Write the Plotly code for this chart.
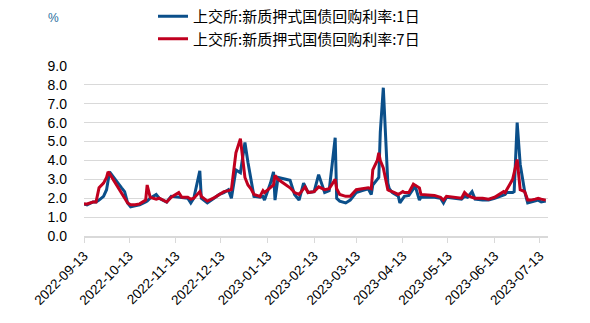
import plotly.graph_objects as go

dates = [
    "2022-09-13", "2022-09-15", "2022-09-19", "2022-09-21", "2022-09-23", "2022-09-26",
    "2022-09-28", "2022-09-29", "2022-09-30", "2022-10-08", "2022-10-10", "2022-10-12",
    "2022-10-14", "2022-10-17", "2022-10-20", "2022-10-24", "2022-10-25", "2022-10-27",
    "2022-10-31", "2022-11-02", "2022-11-07", "2022-11-10", "2022-11-15", "2022-11-17",
    "2022-11-21", "2022-11-23", "2022-11-25", "2022-11-29", "2022-11-30", "2022-12-04",
    "2022-12-08", "2022-12-12", "2022-12-15", "2022-12-18", "2022-12-20", "2022-12-23",
    "2022-12-26", "2022-12-29", "2022-12-31", "2023-01-02", "2023-01-04", "2023-01-08",
    "2023-01-10", "2023-01-11", "2023-01-15", "2023-01-17", "2023-01-18", "2023-01-20",
    "2023-01-28", "2023-01-31", "2023-02-03", "2023-02-06", "2023-02-07", "2023-02-09",
    "2023-02-13", "2023-02-16", "2023-02-20", "2023-02-23", "2023-02-27", "2023-02-28",
    "2023-03-02", "2023-03-06", "2023-03-09", "2023-03-13", "2023-03-17", "2023-03-21",
    "2023-03-23", "2023-03-24", "2023-03-27", "2023-03-28", "2023-03-29", "2023-03-31",
    "2023-04-03", "2023-04-04", "2023-04-06", "2023-04-10", "2023-04-11", "2023-04-13",
    "2023-04-14", "2023-04-17", "2023-04-20", "2023-04-21", "2023-04-24", "2023-04-25",
    "2023-05-04", "2023-05-08", "2023-05-10", "2023-05-12", "2023-05-16", "2023-05-19",
    "2023-05-22", "2023-05-24", "2023-05-26", "2023-05-29", "2023-05-31", "2023-06-05",
    "2023-06-09", "2023-06-13", "2023-06-16", "2023-06-19", "2023-06-20", "2023-06-21",
    "2023-06-25", "2023-06-26", "2023-06-28", "2023-06-30", "2023-07-03", "2023-07-05",
    "2023-07-07", "2023-07-10", "2023-07-12", "2023-07-14", "2023-07-17",
]

rate_1d = [
    1.70, 1.65, 1.80, 1.80, 1.90, 2.10,
    2.45, 3.00, 3.40, 2.55, 2.35, 1.75,
    1.55, 1.60, 1.65, 1.80, 1.85, 2.00,
    2.20, 2.00, 1.80, 2.10, 2.05, 2.05,
    2.00, 1.75, 2.00, 3.45, 2.00, 1.75,
    2.00, 2.20, 2.30, 2.45, 2.00, 3.50,
    3.35, 4.95, 3.90, 3.00, 2.10, 2.05,
    2.10, 1.90, 2.80, 3.40, 1.90, 3.10,
    2.95, 2.20, 1.90, 2.80, 2.60, 2.30,
    2.35, 3.25, 2.30, 2.40, 5.20, 2.00,
    1.85, 1.75, 1.90, 2.30, 2.40, 2.50,
    2.20, 2.70, 3.00, 3.10, 5.50, 7.85,
    2.80, 2.50, 2.30, 2.10, 1.75, 2.00,
    2.10, 2.15, 2.50, 2.70, 1.90, 2.05,
    2.05, 2.00, 1.75, 2.05, 2.00, 1.95,
    1.95, 2.10, 2.05, 2.35, 1.95, 1.90,
    1.90, 2.00, 2.10, 2.20, 2.20, 2.30,
    2.30, 2.35, 6.00, 3.80, 2.35, 1.75,
    1.80, 1.85, 1.90, 1.80, 1.85,
]

rate_7d = [
    1.70, 1.70, 1.80, 1.80, 2.55, 2.80,
    3.10, 3.40, 3.30, 2.30, 2.00, 1.75,
    1.65, 1.65, 1.70, 1.90, 2.70, 2.05,
    1.95, 2.00, 1.80, 2.05, 2.30, 2.05,
    2.05, 1.95, 2.00, 2.35, 2.10, 1.85,
    2.00, 2.20, 2.35, 2.40, 2.45, 4.40,
    5.15, 3.10, 2.70, 2.50, 2.20, 2.10,
    2.40, 2.30, 2.60, 2.70, 3.20, 3.00,
    2.55, 2.30, 2.20, 2.50, 2.60, 2.30,
    2.35, 2.60, 2.45, 2.50, 3.00, 2.50,
    2.20, 2.10, 2.10, 2.45, 2.50, 2.55,
    2.50, 3.50, 4.00, 4.40, 4.00, 3.60,
    2.45, 2.40, 2.35, 2.20, 2.25, 2.35,
    2.30, 2.30, 2.75, 2.70, 2.55, 2.20,
    2.15, 2.05, 1.90, 2.10, 2.05, 2.00,
    2.00, 2.30, 2.15, 2.05, 2.00, 2.00,
    1.95, 2.05, 2.20, 2.35, 2.30, 2.45,
    3.00, 3.35, 4.05, 2.45, 2.35, 1.90,
    1.90, 1.95, 2.00, 1.95, 1.90,
]

tick_dates = [
    "2022-09-13", "2022-10-13", "2022-11-13", "2022-12-13", "2023-01-13", "2023-02-13",
    "2023-03-13", "2023-04-13", "2023-05-13", "2023-06-13", "2023-07-13",
]

name_1d = "上交所:新质押式国债回购利率:1日"
name_7d = "上交所:新质押式国债回购利率:7日"

fig = go.Figure()
fig.add_trace(go.Scatter(x=dates, y=rate_1d, mode="lines", name=name_1d,
                         line=dict(color="#0B4F8A", width=3)))
fig.add_trace(go.Scatter(x=dates, y=rate_7d, mode="lines", name=name_7d,
                         line=dict(color="#C0001F", width=3)))

fig.update_layout(
    width=590, height=323,
    margin=dict(l=84, r=42, t=66, b=87, autoexpand=False),
    paper_bgcolor="white", plot_bgcolor="white",
    font=dict(family="Liberation Sans, Arial, sans-serif", size=14, color="#000000"),
    showlegend=True,
    legend=dict(
        xref="container", x=153 / 590, xanchor="left",
        yref="container", y=1.0, yanchor="top",
        font=dict(family="Noto Sans CJK SC, sans-serif", size=15, color="#000000"),
        bgcolor="rgba(0,0,0,0)", borderwidth=0,
        tracegroupgap=0,
    ),
    annotations=[dict(
        text="%", xref="paper", yref="paper",
        x=(53 - 84) / 464, y=1 + (66 - 18) / 170,
        xanchor="center", yanchor="middle", showarrow=False,
        font=dict(family="Liberation Sans, Arial, sans-serif", size=12, color="#1F6E9E"),
    )],
)

fig.update_xaxes(
    type="date",
    range=["2022-09-13", "2023-07-18 12:00"],
    tickvals=tick_dates,
    ticktext=tick_dates,
    tickangle=-45,
    showgrid=False,
    showline=True, linecolor="#D9D9D9", linewidth=1.5,
    ticks="outside", ticklen=5, tickcolor="#D9D9D9", tickwidth=1,
    tickfont=dict(size=13.5, color="#000000"),
    zeroline=False,
)
fig.update_yaxes(
    range=[0, 9], dtick=1, tick0=0, tickformat=".1f",
    showgrid=True, gridcolor="#D9D9D9", gridwidth=1,
    showline=False, zeroline=False,
    ticks="", ticklabelstandoff=16,
    tickfont=dict(size=14, color="#000000"),
)

fig.write_html("out.html")
